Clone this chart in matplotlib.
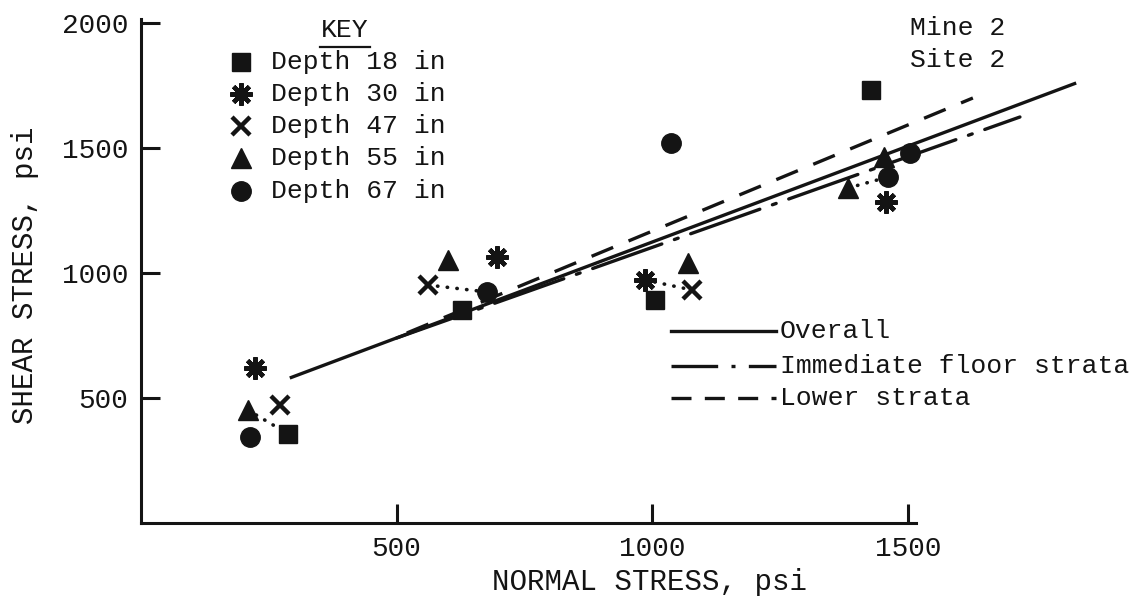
import matplotlib
matplotlib.use("Agg")
import matplotlib.pyplot as plt
from matplotlib.lines import Line2D

W, H = 1147, 599

# data (normal stress, shear stress in psi)
depth18_x = [288, 628, 1005, 1428]
depth18_y = [356, 852, 892, 1732]
depth30_x = [223, 696, 986, 1457]
depth30_y = [620, 1064, 972, 1284]
depth47_x = [272, 561, 1078]
depth47_y = [472, 952, 932]
depth55_x = [209, 600, 1070, 1383, 1453]
depth55_y = [452, 1052, 1040, 1340, 1464]
depth67_x = [213, 677, 1037, 1461, 1504]
depth67_y = [344, 924, 1520, 1384, 1480]

# dotted links between points of one test: (depth, index, depth, index)
links = [("55", 0, "18", 0), ("47", 1, "67", 1), ("30", 2, "47", 2), ("55", 3, "67", 3)]

# fitted envelopes (end points)
overall_x = [291, 1829]
overall_y = [580, 1760]
immediate_x = [500, 1719]
immediate_y = [740, 1624]
lower_x = [520, 1627]
lower_y = [760, 1700]

x_ticks = [500, 1000, 1500]
y_ticks = [500, 1000, 1500, 2000]

FONT = "Liberation Mono"
plt.rcParams["font.family"] = [FONT, "DejaVu Sans Mono"]
INK = "#141414"


def fx(px):
    return px / W


def fy(py):
    return 1 - py / H


fig = plt.figure(figsize=(W / 100, H / 100), dpi=100)
fig.patch.set_facecolor("white")
ax = fig.add_axes([fx(141), fy(523), fx(W - 141), 523 / H])
ax.set_xlim(0, (W - 141) / 0.5113)
ax.set_ylim(0, 523 / 0.25)

for s in ["top", "right"]:
    ax.spines[s].set_visible(False)
for s in ["left", "bottom"]:
    ax.spines[s].set_linewidth(2.2)
    ax.spines[s].set_color(INK)
ax.spines["left"].set_bounds(0, 2015)
ax.spines["bottom"].set_bounds(0, 1515)

ax.set_xticks(x_ticks)
ax.set_yticks(y_ticks)
ax.set_xticklabels([str(v) for v in x_ticks])
ax.set_yticklabels([str(v) for v in y_ticks])
ax.tick_params(direction="in", length=14, width=2.2, color=INK,
               labelsize=20, labelcolor=INK, pad=9)

markers = {
    "18": dict(marker="s", ms=13),
    "30": dict(marker=(8, 2, 0), ms=16, mew=3.2),
    "47": dict(marker="x", ms=13, mew=3.2),
    "55": dict(marker="^", ms=14),
    "67": dict(marker="o", ms=14),
}
series = {
    "18": (depth18_x, depth18_y),
    "30": (depth30_x, depth30_y),
    "47": (depth47_x, depth47_y),
    "55": (depth55_x, depth55_y),
    "67": (depth67_x, depth67_y),
}

# envelopes
ax.plot(overall_x, overall_y, color=INK, lw=2.4, solid_capstyle="butt")
ax.plot(immediate_x, immediate_y, color=INK, lw=2.4,
        dashes=(22, 4, 1.2, 4), dash_capstyle="round")
ax.plot(lower_x, lower_y, color=INK, lw=2.4, dashes=(7, 5))

# dotted links
for d1, i1, d2, i2 in links:
    xa, ya = series[d1]
    xb, yb = series[d2]
    ax.plot([xa[i1], xb[i2]], [ya[i1], yb[i2]], color=INK, lw=2.6,
            dashes=(0.1, 2.6), dash_capstyle="round")

for key, (xs, ys) in series.items():
    st = markers[key]
    ax.plot(xs, ys, ls="none", color=INK, mfc=INK, mec=INK, **st)

# axis titles
fig.text(fx(650), fy(582), "NORMAL STRESS, psi", ha="center", va="center",
         fontsize=21, color=INK)
fig.text(fx(25), fy(275), "SHEAR STRESS, psi", ha="center", va="center",
         rotation=90, fontsize=21, color=INK)

# KEY block
fig.text(fx(345), fy(30), "KEY", ha="center", va="center", fontsize=19, color=INK)
fig.add_artist(Line2D([fx(320), fx(370)], [fy(47), fy(47)], color=INK, lw=1.6))
key_rows = ["18", "30", "47", "55", "67"]
key_y = [62, 94, 126, 158, 191]
for key, py in zip(key_rows, key_y):
    st = markers[key]
    fig.add_artist(Line2D([fx(241)], [fy(py)], ls="none", color=INK, mfc=INK,
                          mec=INK, **st))
    fig.text(fx(271), fy(py), f"Depth {key} in", ha="left", va="center",
             fontsize=19, color=INK)

fig.text(fx(910), fy(28), "Mine 2", ha="left", va="center", fontsize=19, color=INK)
fig.text(fx(910), fy(60), "Site 2", ha="left", va="center", fontsize=19, color=INK)

# line legend
leg_rows = [
    ("Overall", dict(), 331),
    ("Immediate floor strata", dict(dashes=(14, 4, 1.2, 4)), 366),
    ("Lower strata", dict(dashes=(6, 4)), 398),
]
for label, ls, py in leg_rows:
    fig.add_artist(Line2D([fx(671), fx(776)], [fy(py), fy(py)], color=INK,
                          lw=2.4, **ls))
    fig.text(fx(780), fy(py), label, ha="left", va="center", fontsize=19,
             color=INK)

fig.savefig("out.png", dpi=100, facecolor="white")
